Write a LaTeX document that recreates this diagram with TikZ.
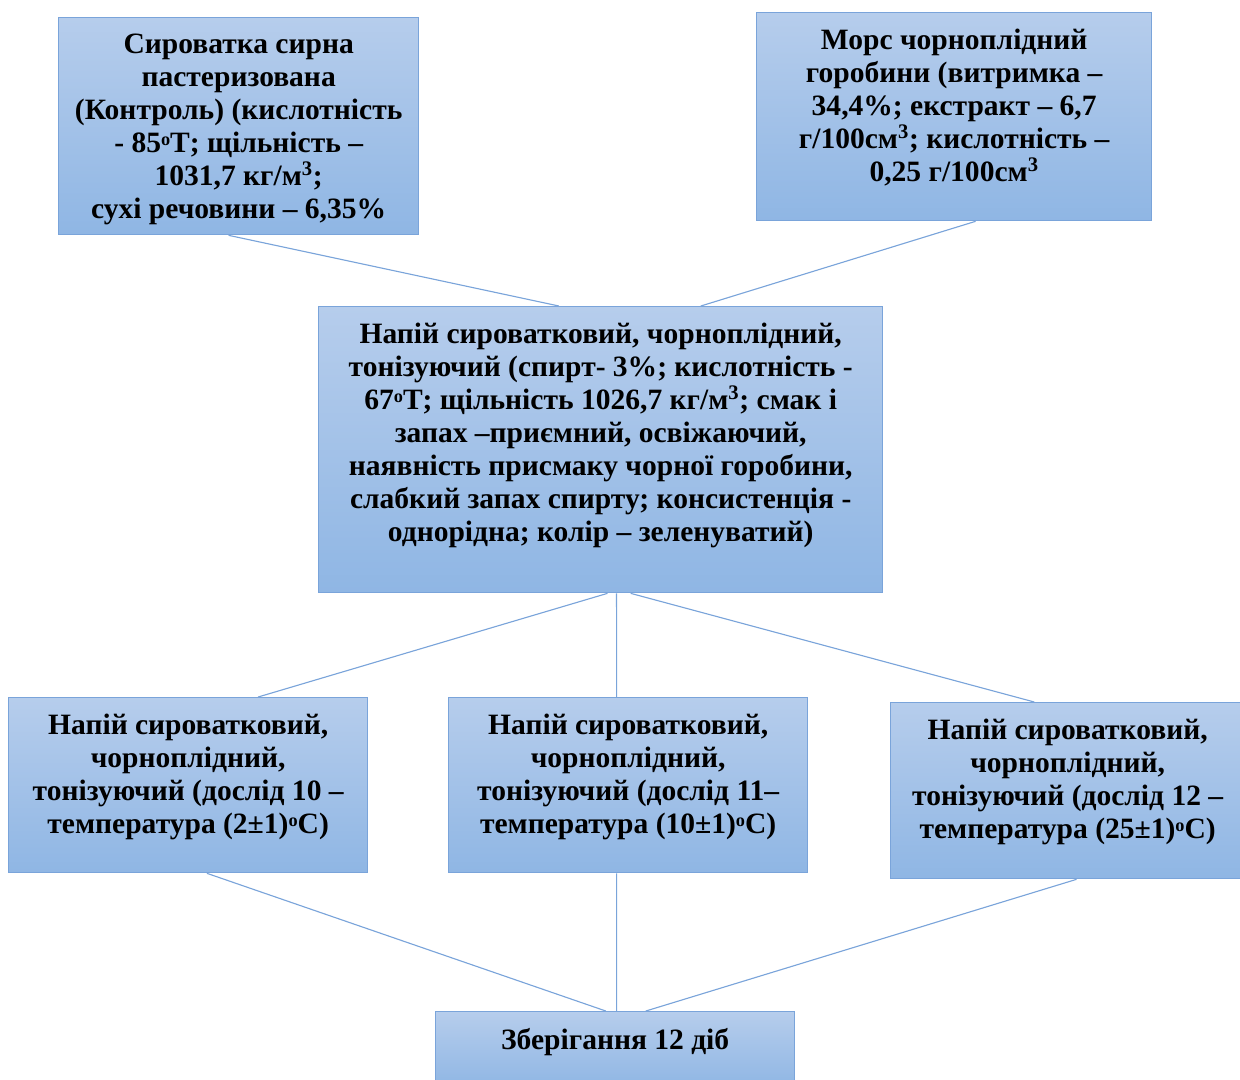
\documentclass[tikz,border=0pt]{standalone}
\usepackage{fontspec}
\setmainfont{Liberation Serif}
\usetikzlibrary{calc}
\definecolor{boxtop}{RGB}{182,205,236}
\definecolor{boxbot}{RGB}{143,182,228}
\definecolor{boxline}{RGB}{122,164,218}
\tikzset{
  box/.style={rectangle, draw=boxline, line width=0.9pt,
              top color=boxtop, bottom color=boxbot,
              anchor=north west, inner sep=0pt},
  txt/.style={anchor=north, align=center, inner sep=0pt, yshift=-0.42cm,
              font=\fontsize{21}{23.5}\selectfont\bfseries},
  link/.style={draw=boxline, line width=0.8pt},
}
\newcommand{\at}[3]{($(#1.#2 west)!#3!(#1.#2 east)$)}
\newcommand{\dg}{\raisebox{0.55ex}{\fontsize{13}{13}\selectfont o}}

\begin{document}
\begin{tikzpicture}[x=0.025cm, y=-0.025cm]
  \useasboundingbox (0,0) rectangle (1240,1079);

  % boxes
  \node[box, minimum width=9cm, minimum height=5.425cm] (whey) at (58,17) {};
  \node[box, minimum width=9.875cm, minimum height=5.2cm] (mors) at (756,12) {};
  \node[box, minimum width=14.1cm, minimum height=7.15cm] (drink) at (318,306) {};
  \node[box, minimum width=8.975cm, minimum height=4.375cm] (expA) at (8,697) {};
  \node[box, minimum width=8.975cm, minimum height=4.375cm] (expB) at (448,697) {};
  \node[box, minimum width=8.85cm, minimum height=4.4cm] (expC) at (890,702) {};
  \node[box, minimum width=8.975cm, minimum height=1.9cm] (store) at (435,1011) {};

  % texts
  \node[txt] at (whey.north) {Сироватка сирна\\ пастеризована\\
    (Контроль) (кислотність\\ - 85\dg Т; щільність –\\
    1031,7 кг/м\textsuperscript{3};\\ сухі речовини – 6,35\%};
  \node[txt] at (mors.north) {Морс чорноплідний\\ горобини (витримка –\\
    34,4\%; екстракт – 6,7\\ г/100см\textsuperscript{3}; кислотність –\\
    0,25 г/100см\textsuperscript{3}};
  \node[txt] at (drink.north) {Напій сироватковий, чорноплідний,\\
    тонізуючий (спирт- 3\%; кислотність -\\
    67\dg Т; щільність 1026,7 кг/м\textsuperscript{3}; смак і\\
    запах –приємний, освіжаючий,\\ наявність присмаку чорної горобини,\\
    слабкий запах спирту; консистенція -\\ однорідна; колір – зеленуватий)};
  \node[txt] at (expA.north) {Напій сироватковий,\\ чорноплідний,\\
    тонізуючий (дослід 10 –\\ температура (2±1)\dg С)};
  \node[txt] at (expB.north) {Напій сироватковий,\\ чорноплідний,\\
    тонізуючий (дослід 11–\\ температура (10±1)\dg С)};
  \node[txt] at (expC.north) {Напій сироватковий,\\ чорноплідний,\\
    тонізуючий (дослід 12 –\\ температура (25±1)\dg С)};
  \node[txt] at (store.north) {Зберігання 12 діб};

  % connectors
  \draw[link] \at{whey}{south}{0.472} -- \at{drink}{north}{0.426};
  \draw[link] \at{mors}{south}{0.554} -- \at{drink}{north}{0.677};
  \draw[link] \at{drink}{south}{0.512} -- \at{expA}{north}{0.694};
  \draw[link] \at{drink}{south}{0.528} -- \at{expB}{north}{0.468};
  \draw[link] \at{drink}{south}{0.553} -- \at{expC}{north}{0.406};
  \draw[link] \at{expA}{south}{0.552} -- \at{store}{north}{0.474};
  \draw[link] \at{expB}{south}{0.468} -- \at{store}{north}{0.504};
  \draw[link] \at{expC}{south}{0.525} -- \at{store}{north}{0.585};
\end{tikzpicture}
\end{document}
